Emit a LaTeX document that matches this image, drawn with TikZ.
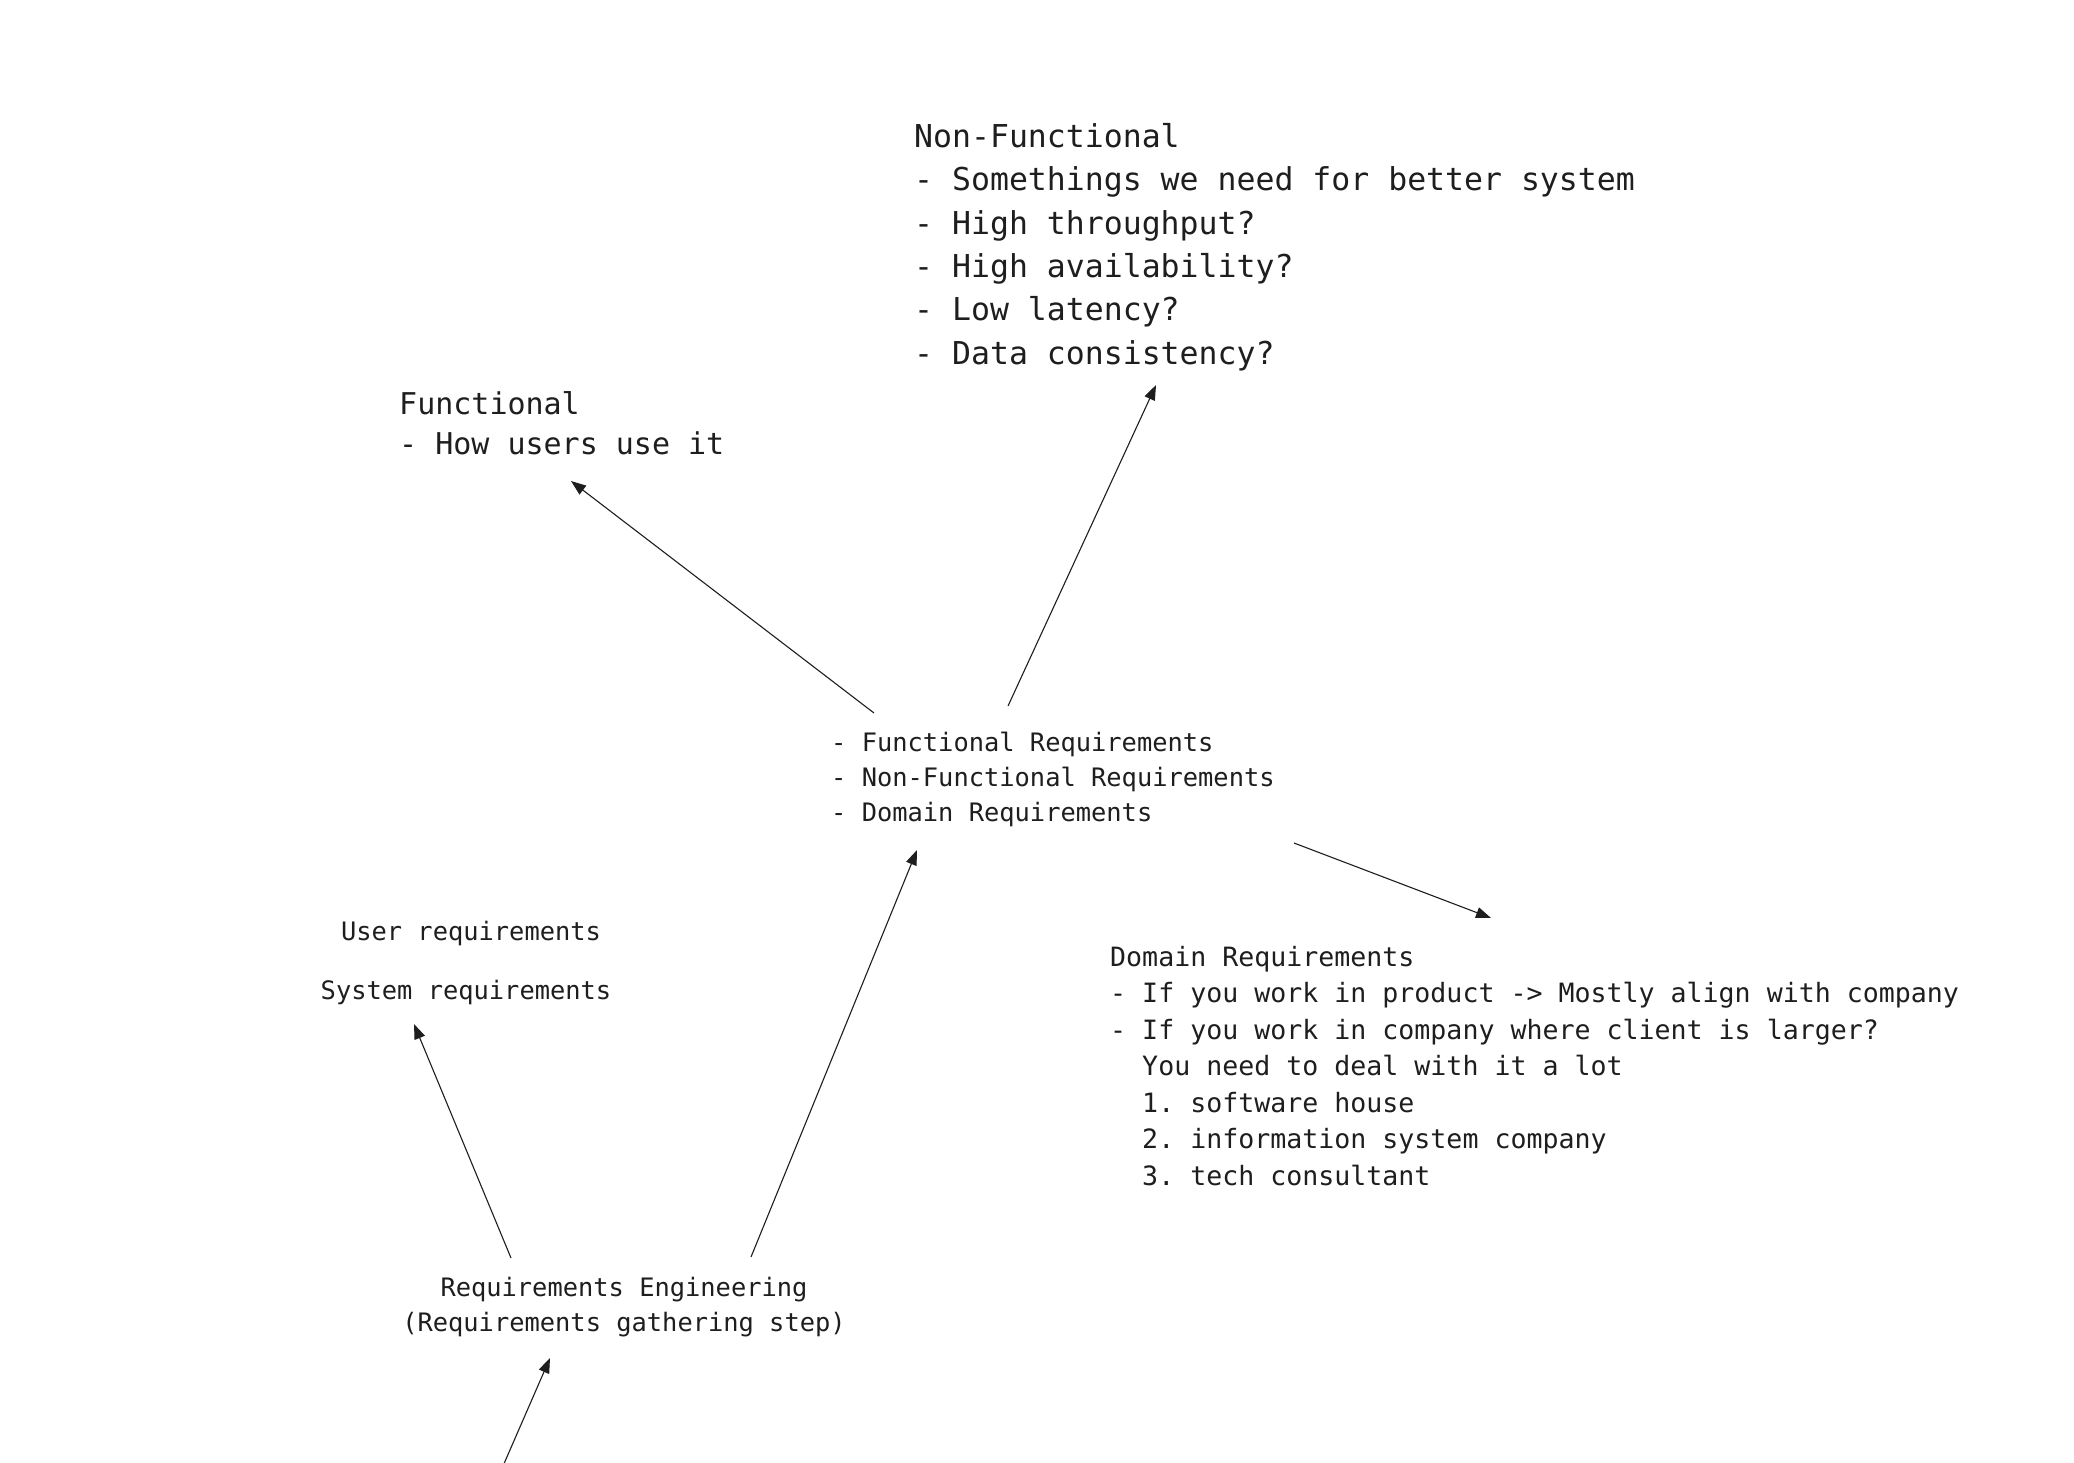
\documentclass[tikz,border=0pt]{standalone}
\usepackage{fontspec}
\setmonofont{DejaVu Sans Mono}
\usetikzlibrary{arrows.meta}
\definecolor{ink}{HTML}{1E1E1E}
\begin{document}
\begin{tikzpicture}[x=1pt,y=-1pt,
  note/.style={inner sep=0pt, text=ink, align=left},
  txtlarge/.style={font=\ttfamily\fontsize{31.5}{43.4}\selectfont},
  txtmid/.style={font=\ttfamily\fontsize{30}{40}\selectfont},
  txtsmall/.style={font=\ttfamily\fontsize{25.4}{35}\selectfont},
  txtdom/.style={font=\ttfamily\fontsize{26.6}{36.5}\selectfont},
  link/.style={draw=ink, line width=1.1pt, -{Triangle[length=15pt,width=11pt]}}]
\fill[white] (0,0) rectangle (2074,1462);
\useasboundingbox (0,0) rectangle (2074,1462);

% text blocks
\node[note, txtlarge, anchor=north west] (nonfunc) at (914,123)
  {Non-Functional\\- Somethings we need for better system\\- High throughput?\\- High availability?\\- Low latency?\\- Data consistency?};
\node[note, txtmid, anchor=north west] (func) at (399,391)
  {Functional\\- How users use it};
\node[note, txtsmall, anchor=north west] (types) at (831,732)
  {- Functional Requirements\\- Non-Functional Requirements\\- Domain Requirements};
\node[note, txtsmall] (user) at (471,934) {User requirements};
\node[note, txtsmall] (system) at (466,993) {System requirements};
\node[note, txtdom, anchor=north west] (dom) at (1110,946)
  {Domain Requirements\\- If you work in product -> Mostly align with company\\- If you work in company where client is larger?\\\hphantom{xx}You need to deal with it a lot\\\hphantom{xx}1. software house\\\hphantom{xx}2. information system company\\\hphantom{xx}3. tech consultant};
\node[note, txtsmall, align=center, anchor=north] (reqeng) at (624,1277)
  {Requirements Engineering\\(Requirements gathering step)};

% connector end points
\coordinate (t1) at (874,713);  \coordinate (h1) at (571,481);
\coordinate (t2) at (1008,706); \coordinate (h2) at (1156,385);
\coordinate (t3) at (1294,843); \coordinate (h3) at (1491,918);
\coordinate (t4) at (511,1258); \coordinate (h4) at (414,1024);
\coordinate (t5) at (751,1257); \coordinate (h5) at (917,850);
\coordinate (t6) at (503,1466); \coordinate (h6) at (550,1358);

\draw[link] (t1) -- (h1);
\draw[link] (t2) -- (h2);
\draw[link] (t3) -- (h3);
\draw[link] (t4) -- (h4);
\draw[link] (t5) -- (h5);
\draw[link] (t6) -- (h6);
\end{tikzpicture}
\end{document}
